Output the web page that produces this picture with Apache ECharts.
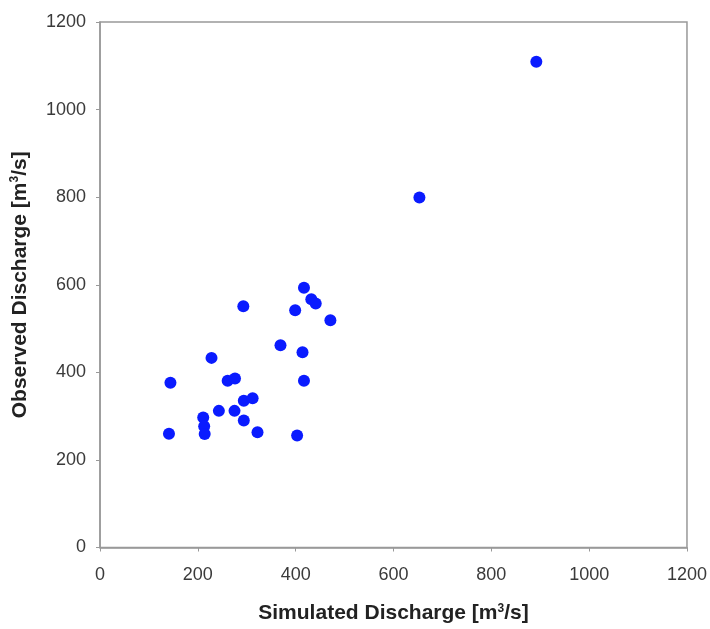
<!DOCTYPE html>
<html>
<head>
<meta charset="utf-8">
<script src="https://cdn.jsdelivr.net/npm/echarts@6/dist/echarts.min.js"></script>
<style>
html,body{margin:0;padding:0;background:#fff;}
#chart{width:710px;height:629px;}
</style>
</head>
<body>
<div id="chart"></div>
<script>
const simulated = [892, 653, 417, 432, 441, 399, 293, 471, 369, 414, 228, 144, 261, 276, 417, 294, 312, 243, 275, 211, 294, 213, 214, 141, 322, 403];
const observed  = [1109, 799, 593, 567, 557, 542, 551, 519, 462, 446, 433, 376, 381, 386, 381, 335, 341, 312, 312, 297, 290, 277, 259, 260, 263, 256];
const xTitle = 'Simulated Discharge [m{sup|3}/s]';
const yTitle = 'Observed Discharge [m{sup|3}/s]';

const points = simulated.map((x, i) => [x, observed[i]]);
const chart = echarts.init(document.getElementById('chart'));
const font = 'Liberation Sans, Arial, sans-serif';
const axisCommon = {
  type: 'value', min: 0, max: 1200, interval: 200,
  axisLine: {show: true, lineStyle: {color: '#999', width: 1.5}},
  axisTick: {show: true, length: 4, lineStyle: {color: '#999'}},
  splitLine: {show: false},
  axisLabel: {color: '#3a3a3a', fontFamily: font, fontSize: 18, formatter: v => String(v)},
  nameLocation: 'middle',
  nameTextStyle: {
    fontFamily: font, fontSize: 21, fontWeight: 'bold', color: '#222',
    rich: {sup: {fontSize: 12, fontWeight: 'bold', verticalAlign: 'top', padding: [0,0,10,0], color: '#222', fontFamily: font}}
  }
};
chart.setOption({
  animation: false,
  grid: {left: 100, right: 22, top: 22, bottom: 81, show: true, borderColor: '#999', borderWidth: 1.5},
  xAxis: Object.assign({}, axisCommon, {name: xTitle, nameGap: 55, axisLabel: Object.assign({}, axisCommon.axisLabel, {margin: 19})}),
  yAxis: Object.assign({}, axisCommon, {name: yTitle, nameGap: 69, axisLabel: Object.assign({}, axisCommon.axisLabel, {margin: 14})}),
  series: [{
    type: 'scatter', data: points, symbolSize: 12,
    itemStyle: {color: '#0a1bff', opacity: 1}
  }]
});
</script>
</body>
</html>
